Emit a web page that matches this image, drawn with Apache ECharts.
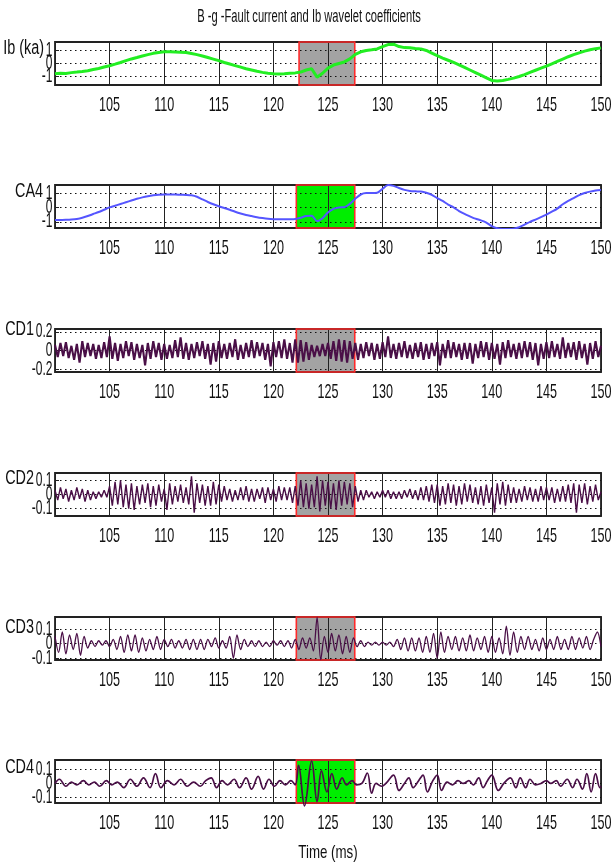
<!DOCTYPE html>
<html>
<head>
<meta charset="utf-8">
<script src="https://cdn.jsdelivr.net/npm/echarts@6/dist/echarts.min.js"></script>
<style>
html, body { margin: 0; padding: 0; background: #fff; }
#chart { width: 613px; height: 865px; }
</style>
</head>
<body>
<div id="chart"></div>
<script>
// ---- data (time in ms) ----
const timeRange = [100, 150];
const xTicks = [105, 110, 115, 120, 125, 130, 135, 140, 145, 150];
const faultWindowIb = [122.35, 127.45];
const faultWindow = [122.1, 127.45];

const panelNames = ['Ib (ka)', 'CA4', 'CD1', 'CD2', 'CD3', 'CD4'];
const yTicks = [[-1, 0, 1], [-1, 0, 1], [-0.2, 0, 0.2], [-0.1, 0, 0.1], [-0.1, 0, 0.1], [-0.1, 0, 0.1]];
const yRanges = [[-1.65, 1.65], [-1.43, 1.56], [-0.23, 0.23], [-0.153, 0.153], [-0.112, 0.183], [-0.14, 0.168]];

// Ib, one value every 0.5 ms
const ibValues = [
  -0.78,-0.74,-0.76,-0.70,-0.66,-0.61,-0.55,-0.46,-0.38,-0.27,
  -0.17,-0.05,0.08,0.22,0.35,0.46,0.58,0.68,0.78,0.85,
  0.90,0.90,0.88,0.86,0.84,0.76,0.68,0.58,0.46,0.34,
  0.22,0.08,-0.04,-0.16,-0.28,-0.40,-0.50,-0.60,-0.68,-0.74,
  -0.78,-0.80,-0.78,-0.75,-0.72,-0.66,-0.50,-0.40,-1.05,-0.75,
  -0.35,-0.12,0.00,0.12,0.35,0.70,0.90,1.00,1.05,1.12,
  1.30,1.45,1.48,1.30,1.22,1.20,1.15,1.12,1.00,0.80,
  0.60,0.42,0.25,0.08,-0.10,-0.30,-0.50,-0.70,-0.90,-1.10,
  -1.30,-1.35,-1.30,-1.22,-1.12,-1.00,-0.85,-0.68,-0.52,-0.36,
  -0.20,-0.02,0.16,0.34,0.52,0.68,0.82,0.95,1.05,1.14,
  1.20
];

// CA4, one value every 0.5 ms
const ca4Values = [
  -0.88,-0.87,-0.86,-0.84,-0.80,-0.72,-0.60,-0.46,-0.32,-0.16,
  0.00,0.12,0.24,0.36,0.48,0.60,0.70,0.78,0.84,0.88,
  0.90,0.90,0.90,0.88,0.87,0.84,0.74,0.56,0.38,0.22,
  0.08,-0.04,-0.16,-0.30,-0.42,-0.52,-0.60,-0.68,-0.74,-0.79,
  -0.82,-0.83,-0.83,-0.82,-0.80,-0.72,-0.60,-0.58,-0.95,-0.75,
  -0.35,-0.10,0.00,0.02,0.25,0.60,0.90,1.00,1.00,1.02,
  1.30,1.56,1.50,1.35,1.22,1.15,1.12,1.10,1.02,0.88,
  0.65,0.45,0.20,0.00,-0.25,-0.45,-0.62,-0.78,-0.90,-1.05,
  -1.30,-1.45,-1.50,-1.50,-1.48,-1.38,-1.20,-1.00,-0.85,-0.68,
  -0.50,-0.30,-0.08,0.22,0.45,0.65,0.85,1.00,1.10,1.18,
  1.22
];

// CD1, one value every 0.25 ms
const cd1Values = [
  .06,-.07,.08,-.06, .09,-.08,.05,-.10, .07,-.13,.10,-.07, .08,-.06,.07,-.09, .06,-.08,.09,-.07,
  .15,-.09,.08,-.11, .07,-.08,.10,-.06, .09,-.10,.07,-.08, .06,-.16,.08,-.09, .10,-.07,.08,-.10,
  .07,-.09,.06,-.08, .11,-.07,.14,-.09, .08,-.10,.07,-.08, .09,-.06,.10,-.09, .07,-.15,.08,-.12,
  .10,-.08,.07,-.09, .08,-.07,.12,-.10, .06,-.09,.08,-.07, .11,-.08,.09,-.06, .08,-.10,.07,-.17,
  .09,-.07,.10,-.08, .12,-.09,.08,-.13, .12,-.13,.11,-.12, .09,-.10,.06,-.07, .05,-.06,.07,-.06,
  .08,-.09,.10,-.11, .12,-.12,.11,-.13, .10,-.09,.08,-.10, .07,-.08,.09,-.06, .08,-.10,.07,-.09,
  .09,-.07,.15,-.08, .07,-.09,.08,-.07, .10,-.08,.06,-.09, .08,-.07,.09,-.10, .07,-.09,.08,-.06,
  .09,-.16,.07,-.08, .11,-.08,.09,-.07, .07,-.10,.08,-.09, .08,-.14,.07,-.08, .10,-.07,.09,-.10,
  .08,-.09,.07,-.15, .09,-.08,.11,-.07, .07,-.09,.08,-.08, .10,-.07,.09,-.10, .08,-.16,.07,-.09,
  .09,-.08,.10,-.07, .07,-.09,.14,-.08, .08,-.07,.09,-.10, .10,-.08,.07,-.15, .08,-.09,.10,-.07,
  .05
];

// CD2, one value every 0.25 ms
const cd2Values = [
  .03,-.04,.05,-.03, .04,-.05,.03,-.04, .05,-.03,.04,-.05, .03,-.04,.02,-.03, .02,-.02,.03,-.02,
  .06,-.08,.09,-.07, .10,-.09,.07,-.10, .08,-.11,.06,-.07, .07,-.06,.08,-.09, .06,-.08,.07,-.05,
  .04,-.11,.08,-.07, .06,-.05,.07,-.06, .05,-.07,.13,-.13, .08,-.06,.07,-.08, .06,-.08,.09,-.07,
  .07,-.05,.06,-.04, .04,-.05,.03,-.04, .05,-.04,.06,-.05, .04,-.05,.04,-.03, .05,-.06,.05,-.04,
  .04,-.05,.06,-.04, .05,-.04,.05,-.06, .06,-.08,.10,-.09, .08,-.10,.07,-.09, .13,-.12,.10,-.08,
  .09,-.10,.08,-.11, .10,-.08,.09,-.07, .08,-.09,.06,-.05, .03,-.04,.03,-.02, .02,-.03,.02,-.02,
  .03,-.02,.03,-.03, .02,-.03,.02,-.03, .03,-.02,.04,-.03, .03,-.04,.05,-.04, .06,-.05,.07,-.06,
  .07,-.08,.06,-.07, .08,-.06,.07,-.08, .06,-.07,.08,-.05, .07,-.06,.05,-.07, .06,-.08,.07,-.06,
  .05,-.13,.08,-.07, .09,-.08,.07,-.06, .05,-.06,.04,-.05, .06,-.04,.05,-.05, .04,-.05,.06,-.04,
  .05,-.04,.05,-.06, .04,-.05,.06,-.05, .07,-.06,.08,-.13, .07,-.06,.08,-.07, .06,-.05,.07,-.04,
  .02
];

// CD3, three values per ms
const cd3Values = [
  .05,-.06,.08, -.07,.06,-.04, .07,-.08,.05, -.03,.02,-.02, .02,-.01,.02,
  -.02,.03,-.04, .05,-.06,.06, -.05,.06,-.06, .04,-.05,.03, -.04,.05,-.04,
  .03,-.02,.03, -.03,.02,-.03, .03,-.04,.03, -.04,.03,-.04, .03,-.02,.04,
  -.03,.02,-.03, .05,-.10,.06, -.04,.03,-.02, .02,-.02,.02, -.02,.01,-.02,
  .02,-.01,.02, -.02,.02,-.03, .03,-.04,.04, -.03,.04,-.05, .18,-.11,.05,
  -.06,.07,-.05, .06,-.07,.05, -.06,.04,-.02, .02,-.02,.01, -.01,.01,-.01,
  .01,-.01,.01, -.02,.03,-.04, .04,-.05,.04, -.05,.04,-.06, .05,-.06,.07,
  -.10,.08,-.06, .05,-.04,.05, -.05,.04,-.05, .06,-.05,.04, -.04,.05,-.06,
  .05,-.06,.04, -.07,.12,-.08, .08,-.06,.05, -.04,.05,-.04, .03,-.05,.04,
  -.04,.03,-.04, .05,-.04,.03, -.04,.05,-.04, .04,-.03,.05, -.04,.03,.08,
  -.02
];

// CD4, turning points
const cd4Time = [
  100.0,100.4,101.0,101.5,102.0,102.6,103.1,103.6,104.1,104.7,
  105.2,105.7,106.3,106.9,107.5,108.1,108.7,109.2,109.7,110.3,
  110.9,111.5,112.1,112.7,113.3,113.8,114.3,114.8,115.3,115.8,
  116.4,116.9,117.5,118.0,118.6,119.1,119.6,120.1,120.6,121.1,
  121.6,122.0,122.3,122.85,123.5,124.0,124.4,124.9,125.35,125.8,
  126.3,126.7,127.2,127.6,128.1,128.6,129.0,129.4,129.9,130.3,
  131.0,131.5,132.0,132.4,132.8,133.3,133.7,134.1,134.6,135.0,
  135.4,135.9,136.4,136.9,137.4,137.9,138.3,138.8,139.2,139.6,
  140.0,140.6,141.1,141.7,142.2,142.6,143.1,143.5,144.0,144.5,
  145.0,145.4,145.9,146.3,146.9,147.4,147.8,148.3,148.7,149.1,
  149.5,149.9,150.0
];
const cd4Values = [
  0,.03,-.02,.01,-.01,.02,-.01,.01,-.02,.02,
  -.01,.01,-.03,.03,-.02,.04,-.03,.07,-.03,.02,
  -.01,.03,-.02,.01,-.02,.02,.04,-.03,.02,-.01,
  .03,-.03,.04,-.04,.05,-.04,.03,-.02,.02,-.01,
  .02,-.01,.13,-.16,.16,-.13,.09,-.06,.07,-.04,
  .04,-.01,.02,-.01,0,.075,-.07,0,-.02,0,
  .06,-.05,0,.04,-.03,.02,.06,-.06,.02,.06,
  -.05,.01,-.01,.02,0,.02,-.01,.04,-.03,.02,
  .06,-.05,0,.04,-.03,.04,-.03,.03,-.01,0,
  .02,0,.02,-.02,.03,-.03,.03,-.04,.07,-.06,
  .07,-.03,-.02
];

// ---- chart ----
const withTime = (vals, step) => vals.map((v, i) => [timeRange[0] + i * step, v]);
const signals = [
  withTime(ibValues, 0.5),
  withTime(ca4Values, 0.5),
  withTime(cd1Values, 0.25),
  withTime(cd2Values, 0.25),
  withTime(cd3Values, 1 / 3),
  cd4Time.map((t, i) => [t, cd4Values[i]])
];

// MATLAB-style tall, narrow lettering: Liberation Sans squeezed horizontally
const font = '"Liberation Sans", Arial, sans-serif';
const ink = '#111';
const purple = '#4a0f47';
const tops = [42, 185, 329, 473, 617, 760];
const plotH = 43;
const shadeColors = ['#a3a3a3', '#00ee00', '#a3a3a3', '#a3a3a3', '#a3a3a3', '#00ee00'];
const lineColors = ['#22ee22', '#5555ff', purple, purple, purple, purple];
const lineWidths = [3, 2, 2.1, 1.4, 1.3, 1.7];
const smoothness = [0, 0.3, 0, 0, 0.3, 0.4];
const nameRight = [44, 43, 34, 34, 34, 34];

const chart = echarts.init(document.getElementById('chart'));

const grid = [], xAxis = [], yAxis = [], series = [];
tops.forEach((top, i) => {
  const [ymin, ymax] = yRanges[i];
  const win = i === 0 ? faultWindowIb : faultWindow;
  grid.push({ left: 55, right: 12, top, height: plotH, show: true, borderColor: '#222', borderWidth: 1.8 });
  xAxis.push({
    gridIndex: i, type: 'value', min: timeRange[0], max: timeRange[1], interval: 5,
    axisLine: { show: false }, axisTick: { show: false }, axisLabel: { show: false },
    splitLine: { show: true, lineStyle: { color: '#222', width: 1 } }
  });
  yAxis.push({
    gridIndex: i, type: 'value', min: ymin, max: ymax,
    axisLine: { show: false }, axisLabel: { show: false },
    axisTick: { show: true, inside: true, length: 4, customValues: yTicks[i], lineStyle: { color: '#222' } },
    splitLine: { show: true, lineStyle: { color: '#111', width: 1, type: [1.5, 3.5] } }
  });
  // shaded fault window, under the grid lines
  series.push({
    type: 'line', xAxisIndex: i, yAxisIndex: i, data: [], silent: true,
    markArea: { silent: true, z: -1, itemStyle: { color: shadeColors[i], borderWidth: 0 }, data: [[{ xAxis: win[0] }, { xAxis: win[1] }]] }
  });
  series.push({
    type: 'line', xAxisIndex: i, yAxisIndex: i, data: signals[i], silent: true,
    showSymbol: false, symbol: 'none', smooth: smoothness[i], clip: i < 4, z: 4,
    lineStyle: { color: lineColors[i], width: lineWidths[i] },
    markArea: { silent: true, z: 3, itemStyle: { color: 'rgba(0,0,0,0)', borderColor: '#ff2a2a', borderWidth: 1.6 }, data: [[{ xAxis: win[0] }, { xAxis: win[1] }]] }
  });
});

chart.setOption({ animation: false, backgroundColor: '#fff', grid, xAxis, yAxis, series });

// squeezed text helper
const txt = (text, x, y, size, squeeze, align) => ({
  type: 'text', x, y, scaleX: squeeze, silent: true,
  style: { text, fontFamily: font, fontSize: size, fill: ink, align, verticalAlign: 'middle' }
});

const graphic = [];
tops.forEach((top, i) => {
  const [ymin] = yRanges[i];
  xTicks.forEach(t => {
    const [px, py] = chart.convertToPixel({ gridIndex: i }, [t, ymin]);
    graphic.push(txt(String(t), px, py + 20, 21, 0.6, 'center'));
  });
  yTicks[i].forEach(v => {
    const [px, py] = chart.convertToPixel({ gridIndex: i }, [timeRange[0], v]);
    graphic.push(txt(String(v), px - 2.5, py, 20, 0.6, 'right'));
  });
  const topTick = yTicks[i][yTicks[i].length - 1];
  const nameY = chart.convertToPixel({ gridIndex: i }, [timeRange[0], topTick])[1];
  graphic.push(txt(panelNames[i], nameRight[i], nameY - 2, 20, 0.72, 'right'));
});
graphic.push(txt('B -g -Fault current and Ib wavelet coefficients', 309, 17, 18, 0.62, 'center'));
graphic.push(txt('Time (ms)', 328, 853, 19, 0.7, 'center'));

chart.setOption({ graphic });
</script>
</body>
</html>
